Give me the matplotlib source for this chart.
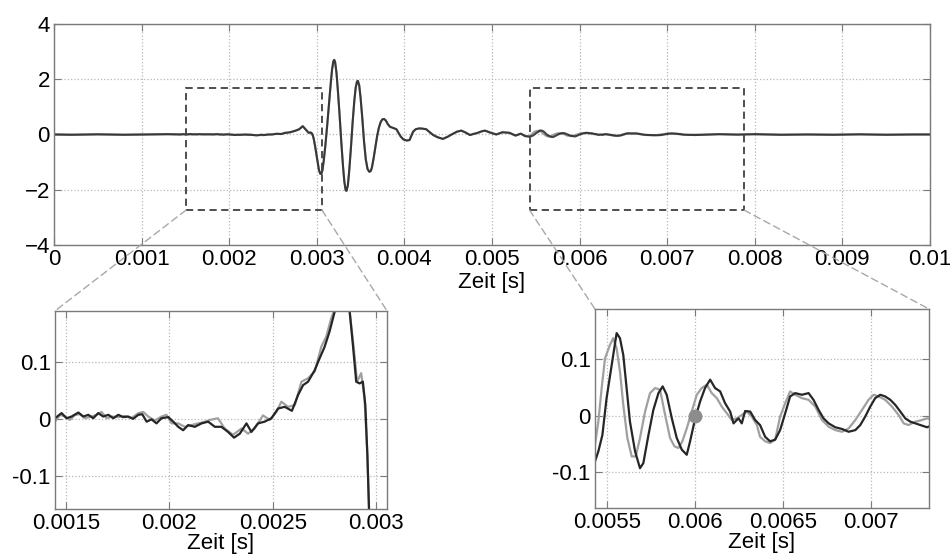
import numpy as np
import matplotlib
matplotlib.use('Agg')
import matplotlib.pyplot as plt
from matplotlib.patches import Rectangle, ConnectionPatch
from matplotlib.ticker import FuncFormatter

plt.rcParams['font.family'] = ['Liberation Sans', 'DejaVu Sans']
plt.rcParams['font.size'] = 16

# --- data (time in ms, amplitude) ---
# quiet part before the zoom window (both sensors)
t_pre = [0.0, 0.2, 0.5, 0.8, 1.1, 1.3]
v_pre = [0.0, -0.01, 0.005, -0.01, 0.0, 0.01]

# left zoom window, dark sensor
t_left_dark = [1.447, 1.479, 1.503, 1.527, 1.560, 1.584, 1.608, 1.632, 1.656, 1.680,
               1.705, 1.729, 1.753, 1.777, 1.801, 1.825, 1.850, 1.869, 1.890, 1.914,
               1.938, 1.962, 1.995, 2.019, 2.043, 2.067, 2.091, 2.123, 2.156, 2.188,
               2.220, 2.252, 2.284, 2.313, 2.341, 2.373, 2.397, 2.429, 2.461, 2.494,
               2.526, 2.558, 2.593, 2.623, 2.647, 2.671, 2.703, 2.727, 2.751, 2.775,
               2.800, 2.840, 2.872, 2.888, 2.904, 2.920, 2.936, 2.948, 2.958, 2.966]
v_left_dark = [0.002, 0.011, 0.002, 0.005, 0.012, 0.005, 0.008, 0.002, 0.011, 0.005,
               0.008, 0.002, 0.008, 0.004, 0.005, 0.001, 0.008, 0.009, -0.004, 0.0,
               -0.007, 0.002, 0.004, -0.004, -0.013, -0.019, -0.010, -0.013, -0.007, -0.004,
               -0.013, -0.013, -0.022, -0.032, -0.025, -0.007, -0.022, -0.007, -0.004, 0.002,
               0.019, 0.022, 0.015, 0.043, 0.060, 0.066, 0.086, 0.107, 0.127, 0.154,
               0.189, 0.30, 0.19, 0.130, 0.066, 0.063, 0.066, 0.025, -0.063, -0.159]

# left zoom window, light sensor
t_left_light = [1.447, 1.471, 1.495, 1.519, 1.544, 1.568, 1.592, 1.624, 1.648, 1.672,
                1.697, 1.721, 1.753, 1.785, 1.817, 1.850, 1.874, 1.898, 1.930, 1.962,
                1.986, 2.011, 2.043, 2.075, 2.107, 2.139, 2.172, 2.196, 2.235, 2.268,
                2.308, 2.349, 2.381, 2.413, 2.453, 2.486, 2.518, 2.542, 2.574, 2.607,
                2.639, 2.671, 2.703, 2.735, 2.759, 2.783, 2.800, 2.840, 2.872, 2.892,
                2.908, 2.928, 2.944, 2.958, 2.966]
v_left_light = [-0.004, 0.008, 0.005, -0.001, 0.008, 0.009, 0.002, 0.005, 0.008, 0.013,
                0.002, 0.005, 0.004, 0.006, 0.002, 0.011, 0.013, 0.005, -0.002, 0.005,
                0.008, -0.007, -0.007, -0.013, -0.010, -0.007, -0.004, -0.001, 0.002, -0.016,
                -0.027, -0.016, -0.025, -0.016, 0.007, -0.001, 0.013, 0.031, 0.022, 0.025,
                0.066, 0.072, 0.084, 0.127, 0.145, 0.177, 0.193, 0.30, 0.19, 0.125,
                0.066, 0.081, 0.037, -0.063, -0.159]

# main burst (both sensors nearly identical)
t_burst = [2.980, 2.995, 3.010, 3.025, 3.040, 3.052, 3.065, 3.080, 3.100, 3.120,
           3.140, 3.160, 3.175, 3.190, 3.200, 3.210, 3.225, 3.240, 3.260, 3.280,
           3.300, 3.315, 3.330, 3.340, 3.355, 3.370, 3.390, 3.410, 3.430, 3.445,
           3.460, 3.470, 3.485, 3.500, 3.520, 3.540, 3.560, 3.580, 3.600, 3.615,
           3.630, 3.650, 3.670, 3.690, 3.710, 3.730, 3.750, 3.770, 3.790, 3.810,
           3.836, 3.870, 3.910, 3.935, 3.960, 3.990, 4.030, 4.060, 4.080, 4.100,
           4.130, 4.170, 4.210, 4.250, 4.290, 4.330, 4.380, 4.440, 4.490, 4.540,
           4.600, 4.650, 4.700, 4.750, 4.790, 4.830, 4.880, 4.920, 4.980, 5.050,
           5.120, 5.200, 5.270, 5.330, 5.380]
v_burst = [-0.40, -0.70, -1.00, -1.28, -1.42, -1.43, -1.30, -0.95, -0.35, 0.35,
           1.10, 1.85, 2.35, 2.65, 2.70, 2.62, 2.25, 1.65, 0.75, -0.25,
           -1.15, -1.70, -2.02, -2.04, -1.85, -1.35, -0.50, 0.45, 1.25, 1.70,
           1.92, 1.94, 1.78, 1.35, 0.60, -0.25, -0.90, -1.25, -1.35, -1.33,
           -1.20, -0.85, -0.45, -0.05, 0.25, 0.45, 0.55, 0.56, 0.50, 0.38,
           0.28, 0.24, 0.19, 0.05, -0.08, -0.18, -0.22, -0.20, -0.05, 0.10,
           0.19, 0.22, 0.21, 0.19, 0.08, -0.02, -0.10, -0.16, -0.09, 0.00,
           0.10, 0.14, 0.07, -0.02, 0.02, 0.05, 0.11, 0.14, 0.07, 0.00,
           0.08, 0.06, -0.04, 0.03, -0.06]

# right zoom window, dark sensor
t_right_dark = [5.430, 5.449, 5.472, 5.496, 5.515, 5.534, 5.553, 5.572, 5.591, 5.610,
                5.629, 5.658, 5.686, 5.705, 5.734, 5.762, 5.791, 5.815, 5.838, 5.867,
                5.895, 5.924, 5.952, 5.971, 6.000, 6.028, 6.056, 6.085, 6.113, 6.142,
                6.170, 6.199, 6.218, 6.246, 6.265, 6.284, 6.313, 6.341, 6.369, 6.398,
                6.426, 6.455, 6.483, 6.512, 6.540, 6.569, 6.607, 6.645, 6.673, 6.702,
                6.730, 6.759, 6.797, 6.835, 6.873, 6.911, 6.939, 6.967, 6.996, 7.024,
                7.053, 7.081, 7.110, 7.138, 7.167, 7.195, 7.224, 7.252, 7.281, 7.319]
v_right_dark = [-0.082, -0.064, -0.035, 0.031, 0.070, 0.108, 0.147, 0.138, 0.108, 0.049,
                -0.011, -0.064, -0.094, -0.085, -0.035, 0.010, 0.040, 0.052, 0.037, -0.005,
                -0.040, -0.061, -0.070, -0.046, -0.005, 0.025, 0.049, 0.064, 0.049, 0.043,
                0.022, 0.007, -0.014, -0.005, -0.014, 0.008, 0.007, -0.008, -0.017, -0.038,
                -0.046, -0.043, -0.026, 0.004, 0.034, 0.040, 0.037, 0.040, 0.028, 0.010,
                -0.005, -0.014, -0.021, -0.024, -0.029, -0.026, -0.017, -0.002, 0.016, 0.031,
                0.037, 0.034, 0.028, 0.019, 0.007, -0.005, -0.011, -0.014, -0.017, -0.021]

# right zoom window, light sensor
t_right_light = [5.430, 5.449, 5.468, 5.487, 5.515, 5.534, 5.553, 5.572, 5.591, 5.614,
                 5.639, 5.662, 5.686, 5.715, 5.743, 5.772, 5.800, 5.829, 5.857, 5.882,
                 5.905, 5.927, 5.952, 5.980, 6.009, 6.037, 6.066, 6.094, 6.123, 6.151,
                 6.180, 6.208, 6.237, 6.265, 6.294, 6.322, 6.351, 6.369, 6.398, 6.426,
                 6.455, 6.483, 6.512, 6.540, 6.569, 6.607, 6.645, 6.683, 6.721, 6.759,
                 6.797, 6.835, 6.873, 6.911, 6.949, 6.986, 7.015, 7.043, 7.081, 7.119,
                 7.157, 7.186, 7.214, 7.252, 7.290, 7.319]
v_right_light = [-0.052, -0.011, 0.049, 0.102, 0.126, 0.138, 0.120, 0.079, 0.019, -0.040,
                 -0.073, -0.073, -0.040, 0.007, 0.040, 0.049, 0.046, 0.001, -0.040, -0.055,
                 -0.058, -0.046, -0.023, 0.007, 0.037, 0.049, 0.055, 0.040, 0.031, 0.016,
                 0.004, -0.008, -0.005, 0.001, 0.007, -0.002, -0.017, -0.038, -0.046, -0.049,
                 -0.043, -0.002, 0.022, 0.043, 0.037, 0.031, 0.028, 0.016, -0.008, -0.020,
                 -0.026, -0.029, -0.023, -0.008, 0.010, 0.028, 0.037, 0.034, 0.028, 0.016,
                 0.001, -0.014, -0.017, -0.011, -0.008, -0.005]

# quiet tail
t_tail = [7.40, 7.60, 7.80, 8.00, 8.30, 8.60, 8.90, 9.20, 9.50, 9.80, 10.0]
v_tail = [-0.01, 0.01, -0.005, 0.01, -0.01, 0.0, -0.01, 0.005, -0.01, 0.0, 0.0]

marker_t, marker_v = 6.0, 0.0

t_dark = np.concatenate([t_pre, t_left_dark, t_burst, t_right_dark, t_tail]) * 1e-3
v_dark = np.concatenate([v_pre, v_left_dark, v_burst, v_right_dark, v_tail])
t_light = np.concatenate([t_pre, t_left_light, t_burst, t_right_light, t_tail]) * 1e-3
v_light = np.concatenate([v_pre, v_left_light, v_burst, v_right_light, v_tail])

DARK = '#262626'
LIGHT = '#a0a0a0'
FRAME = '#7a7a7a'


def style(ax):
    for s in ax.spines.values():
        s.set_color(FRAME)
        s.set_linewidth(1.0)
    ax.tick_params(direction='in', top=True, right=True, length=5, color=FRAME, pad=3)
    ax.grid(True, linestyle=':', color='#b8b8b8', linewidth=0.9)


fmt = FuncFormatter(lambda x, p: '%g' % round(x, 6))

fig = plt.figure(figsize=(9.5, 5.58), dpi=100)
ax = fig.add_axes([0.0568, 0.561, 0.922, 0.396])
ax1 = fig.add_axes([0.0579, 0.0878, 0.3495, 0.355])
ax2 = fig.add_axes([0.6263, 0.0896, 0.3516, 0.3566])

# overview
ax.plot(t_light, v_light, color=LIGHT, lw=1.5)
ax.plot(t_dark, v_dark, color=DARK, lw=1.5, alpha=0.85)
ax.set_xlim(0, 0.01)
ax.set_ylim(-4, 4)
ax.set_xticks(np.arange(0, 0.0105, 0.001))
ax.set_yticks([-4, -2, 0, 2, 4])
ax.xaxis.set_major_formatter(fmt)
ax.set_xlabel('Zeit [s]', labelpad=1)
style(ax)

win1 = (0.001507, 0.00306)
win2 = (0.00543, 0.00788)
ybox = (-2.74, 1.68)
for w in (win1, win2):
    ax.add_patch(Rectangle((w[0], ybox[0]), w[1] - w[0], ybox[1] - ybox[0],
                           fill=False, ls=(0, (4, 2.5)), lw=1.3, ec='#404040', zorder=5))

# zoom windows
ax1.plot(t_light, v_light, color=LIGHT, lw=1.6)
ax1.plot(t_dark, v_dark, color=DARK, lw=1.6)
ax1.set_xlim(0.001447, 0.003053)
ax1.set_ylim(-0.157, 0.19)
ax1.set_xticks([0.0015, 0.002, 0.0025, 0.003])
ax1.set_yticks([-0.1, 0, 0.1])

ax2.plot(t_light, v_light, color=LIGHT, lw=1.6)
ax2.plot(t_dark, v_dark, color=DARK, lw=1.6)
ax2.plot([marker_t * 1e-3], [marker_v], 'o', color='#8c8c8c', ms=9, zorder=6)
ax2.set_xlim(0.00543, 0.00733)
ax2.set_ylim(-0.165, 0.19)
ax2.set_xticks([0.0055, 0.006, 0.0065, 0.007])
ax2.set_yticks([-0.1, 0, 0.1])

for a in (ax1, ax2):
    a.xaxis.set_major_formatter(fmt)
    a.yaxis.set_major_formatter(fmt)
    a.set_xlabel('Zeit [s]', labelpad=-1)
    style(a)

# connector lines from boxes to zoom axes
for w, a in ((win1, ax1), (win2, ax2)):
    for xd, xa in ((w[0], 0), (w[1], 1)):
        con = ConnectionPatch(xyA=(xd, ybox[0]), coordsA=ax.transData,
                              xyB=(xa, 1), coordsB=a.transAxes,
                              color='#a8a8a8', ls=(0, (5, 3)), lw=1.0)
        fig.add_artist(con)

fig.savefig('out.png', dpi=100)
